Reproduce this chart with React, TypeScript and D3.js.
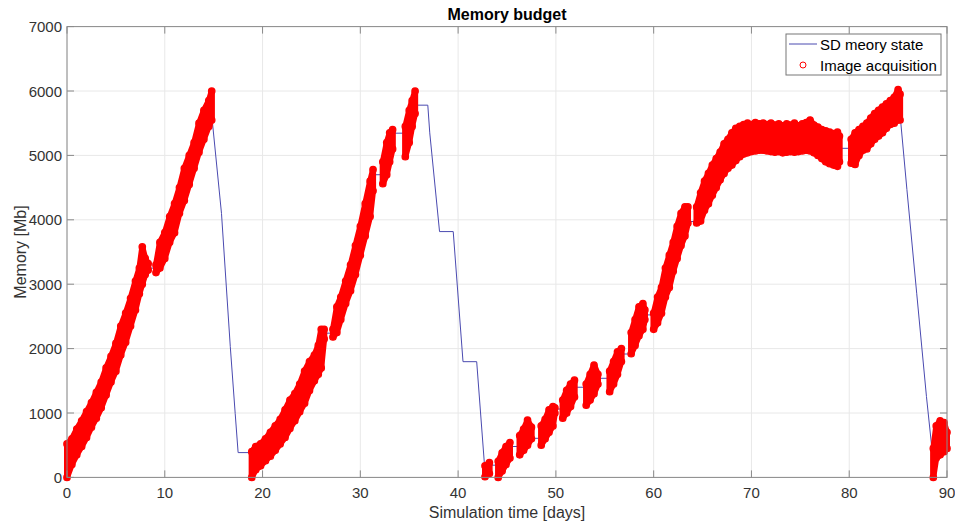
import React from 'react';
import * as d3 from 'd3';

const xTicks = [0, 10, 20, 30, 40, 50, 60, 70, 80, 90];
const yTicks = [0, 1000, 2000, 3000, 4000, 5000, 6000, 7000];
const titleText = 'Memory budget';
const xLabel = 'Simulation time [days]';
const yLabel = 'Memory [Mb]';
const legendLabels = ['SD meory state', 'Image acquisition'];

// Acquisition bursts: [time (days), low memory (Mb), high memory (Mb)]
type Tooth = [number, number, number];
const burst1: Tooth[] = [[0, 0, 520], [0.5, 200, 600], [1.0, 350, 750], [1.5, 480, 880], [2.0, 620, 1020], [2.5, 780, 1160], [3.0, 920, 1320], [3.5, 1080, 1480], [4.0, 1280, 1700], [4.5, 1480, 1880], [5.0, 1650, 2080], [5.5, 1900, 2350], [6.0, 2100, 2550], [6.5, 2350, 2780], [7.0, 2600, 3050], [7.4, 2850, 3250], [7.7, 3000, 3580], [8.0, 3150, 3400], [8.3, 3220, 3320]];
const burst2: Tooth[] = [[9.1, 3180, 3300], [9.5, 3250, 3650], [10.0, 3400, 3800], [10.5, 3650, 4050], [11.0, 3800, 4250], [11.5, 4100, 4500], [12.0, 4300, 4800], [12.5, 4550, 5000], [13.0, 4800, 5200], [13.5, 5050, 5500], [14.0, 5250, 5700], [14.5, 5450, 5850], [14.8, 5550, 6000]];
const burst3: Tooth[] = [[18.9, 0, 400], [19.3, 120, 480], [19.8, 180, 520], [20.3, 260, 600], [20.8, 330, 700], [21.3, 420, 800], [21.8, 520, 900], [22.3, 620, 1050], [22.8, 760, 1200], [23.3, 880, 1300], [23.8, 1020, 1450], [24.3, 1150, 1650], [24.8, 1350, 1800], [25.3, 1500, 1900], [25.7, 1600, 2050], [26.0, 1700, 2300], [26.3, 2150, 2300]];
const burst4: Tooth[] = [[27.2, 2180, 2300], [27.6, 2250, 2650], [28.0, 2450, 2800], [28.5, 2700, 3050], [29.0, 2900, 3300], [29.5, 3150, 3600], [30.0, 3450, 3900], [30.5, 3750, 4250], [31.0, 4050, 4600], [31.3, 4450, 4780]];
const burst5: Tooth[] = [[32.3, 4560, 4900], [32.7, 4700, 5200], [33.0, 4900, 5350], [33.3, 5100, 5400]];
const burst6: Tooth[] = [[34.6, 4980, 5450], [35.0, 5200, 5700], [35.3, 5450, 5850], [35.6, 5650, 6000]];
const burstA: Tooth[] = [[42.75, 10, 180], [43.2, 60, 230]];
const burstB: Tooth[] = [[44.1, 0, 250], [44.5, 100, 380], [44.9, 200, 480], [45.3, 300, 540]];
const burstC: Tooth[] = [[46.3, 350, 650], [46.7, 420, 750], [47.1, 500, 890], [47.5, 600, 780]];
const burstD: Tooth[] = [[48.5, 500, 800], [48.9, 600, 900], [49.3, 700, 1050], [49.7, 800, 1100], [49.9, 1000, 1080]];
const burstE: Tooth[] = [[50.7, 920, 1200], [51.1, 1000, 1350], [51.5, 1100, 1450], [51.9, 1250, 1510]];
const burstF: Tooth[] = [[53.1, 1120, 1450], [53.5, 1200, 1600], [53.9, 1300, 1745], [54.3, 1450, 1600]];
const burstG: Tooth[] = [[55.5, 1330, 1650], [55.9, 1450, 1800], [56.3, 1600, 1950], [56.7, 1800, 2000]];
const burstH: Tooth[] = [[57.7, 1920, 2250], [58.1, 2050, 2450], [58.5, 2200, 2650], [58.9, 2300, 2700], [59.1, 2450, 2600]];
const burstI: Tooth[] = [[60.0, 2300, 2550], [60.4, 2400, 2800], [60.8, 2550, 2950], [61.2, 2800, 3250], [61.6, 2950, 3450], [62.0, 3200, 3650], [62.4, 3400, 3900], [62.8, 3600, 4100], [63.2, 3750, 4200], [63.5, 3950, 4200]];
const burstJ: Tooth[] = [[64.4, 3950, 4200], [64.8, 3980, 4420], [65.2, 4150, 4600], [65.6, 4250, 4720], [66.0, 4380, 4850], [66.4, 4500, 4950], [66.8, 4620, 5050], [67.2, 4720, 5180], [67.6, 4800, 5250], [68.0, 4850, 5350], [68.4, 4920, 5420], [68.8, 4980, 5450], [69.2, 5020, 5480], [69.6, 5040, 5500], [70.0, 5060, 5480], [70.4, 5070, 5510], [70.8, 5080, 5490], [71.2, 5080, 5500], [71.6, 5070, 5480], [72.0, 5060, 5500], [72.4, 5050, 5470], [72.8, 5060, 5490], [73.2, 5040, 5460], [73.6, 5050, 5490], [74.0, 5060, 5470], [74.4, 5050, 5500], [74.8, 5060, 5460], [75.2, 5070, 5490], [75.6, 5080, 5510], [76.0, 5070, 5550], [76.4, 5040, 5470], [76.8, 5000, 5440], [77.2, 4950, 5400], [77.6, 4900, 5380], [78.0, 4870, 5360], [78.4, 4850, 5340], [78.8, 4830, 5360], [79.0, 4900, 5300]];
const burstK: Tooth[] = [[80.2, 4880, 5250], [80.6, 4860, 5350], [81.0, 5000, 5400], [81.4, 5080, 5450], [81.8, 5100, 5500], [82.2, 5180, 5580], [82.6, 5250, 5650], [83.0, 5300, 5700], [83.4, 5350, 5750], [83.8, 5420, 5800], [84.2, 5480, 5850], [84.6, 5500, 5900], [85.0, 5550, 6020], [85.2, 5550, 5950]];
const burstL: Tooth[] = [[88.6, 0, 450], [88.9, 300, 800], [89.3, 350, 880], [89.7, 400, 850], [90.0, 450, 700]];

// Memory state between acquisition bursts: [time, memory]
type Pt = [number, number];
const gap1: Pt[] = [[8.35, 3250], [9.1, 3250]];
const gap2: Pt[] = [[14.85, 5550], [15.8, 4100], [16.7, 2030], [17.2, 995], [17.5, 385], [18.85, 385]];
const gap3: Pt[] = [[26.35, 2240], [27.2, 2240]];
const gap4: Pt[] = [[31.35, 4700], [32.3, 4700]];
const gap5: Pt[] = [[33.35, 5345], [34.6, 5345]];
const gap6: Pt[] = [[35.65, 5780], [36.9, 5780], [37.1, 5350], [38.1, 3817], [39.5, 3817], [40.5, 1797], [41.9, 1797], [42.7, 190]];
const gapA: Pt[] = [[43.25, 190], [44.1, 190]];
const gapB: Pt[] = [[45.35, 480], [46.3, 480]];
const gapC: Pt[] = [[47.55, 607], [48.5, 607]];
const gapD: Pt[] = [[49.95, 1062], [50.7, 1062]];
const gapE: Pt[] = [[51.95, 1400], [53.1, 1400]];
const gapF: Pt[] = [[54.35, 1539], [55.5, 1539]];
const gapG: Pt[] = [[56.75, 1916], [57.7, 1916]];
const gapH: Pt[] = [[59.15, 2523], [60.0, 2523]];
const gapI: Pt[] = [[63.55, 3973], [64.4, 3973]];
const gapJ: Pt[] = [[79.05, 5110], [80.2, 5110]];
const gapK: Pt[] = [[85.25, 5550], [85.9, 4470], [86.9, 2860], [87.9, 1255], [88.4, 530], [88.55, 420]];

const bursts = [burst1, burst2, burst3, burst4, burst5, burst6, burstA, burstB, burstC, burstD, burstE, burstF, burstG, burstH, burstI, burstJ, burstK, burstL];
const gaps = [gap1, gap2, gap3, gap4, gap5, gap6, gapA, gapB, gapC, gapD, gapE, gapF, gapG, gapH, gapI, gapJ, gapK];

const FONT = '"Liberation Sans", Arial, Helvetica, sans-serif';

export default function App() {
  const left = 67, right = 947, top = 26.6, bottom = 477.4;
  const x = d3.scaleLinear().domain([0, 90]).range([left, right]);
  const y = d3.scaleLinear().domain([0, 7000]).range([bottom, top]);

  const zig = (b: Tooth[]): Pt[] => {
    const pts: Pt[] = [];
    b.forEach(([t, lo, hi]) => { pts.push([t, lo]); pts.push([t, hi]); });
    return pts;
  };
  const state: Pt[] = [];
  bursts.forEach((b, i) => {
    state.push(...zig(b));
    if (gaps[i]) state.push(...gaps[i]);
  });
  const line = d3.line<Pt>().x(d => x(d[0])).y(d => y(d[1]));
  const band = d3.area<Tooth>().x(d => x(d[0])).y0(d => y(d[1])).y1(d => y(d[2]));
  const axisColor = '#8a8a8a';
  const gridColor = '#e8e8e8';
  const textColor = '#333333';
  const tickLen = 7;

  return (
    <svg width={955} height={524} style={{ position: 'fixed', left: 0, top: 0, background: '#fff' }} fontFamily={FONT}>
      <rect x={0} y={0} width={955} height={524} fill="#ffffff" />
      {xTicks.map(t => (
        <line key={'gx' + t} x1={x(t)} x2={x(t)} y1={top} y2={bottom} stroke={gridColor} strokeWidth={1} />
      ))}
      {yTicks.map(t => (
        <line key={'gy' + t} x1={left} x2={right} y1={y(t)} y2={y(t)} stroke={gridColor} strokeWidth={1} />
      ))}
      <path d={line(state) || ''} fill="none" stroke="#4a4ab0" strokeWidth={1} />
      {bursts.map((b, i) => {
        const pts = zig(b);
        return (
          <g key={'b' + i}>
            <path d={band(b) || ''} fill="#ff0000" stroke="#ff0000" strokeWidth={6} strokeLinejoin="round" />
            <path d={line(pts) || ''} fill="none" stroke="#ff0000" strokeWidth={6} strokeLinejoin="round" strokeLinecap="round" />
            {pts.map((p, j) => (
              <circle key={j} cx={x(p[0])} cy={y(p[1])} r={3.2} fill="none" stroke="#ff0000" strokeWidth={1.3} />
            ))}
          </g>
        );
      })}
      <rect x={left} y={top} width={right - left} height={bottom - top} fill="none" stroke={axisColor} strokeWidth={1} />
      {xTicks.map(t => (
        <g key={'tx' + t}>
          <line x1={x(t)} x2={x(t)} y1={bottom} y2={bottom - tickLen} stroke={axisColor} />
          <line x1={x(t)} x2={x(t)} y1={top} y2={top + tickLen} stroke={axisColor} />
          <text x={x(t)} y={498} textAnchor="middle" fontSize={15} fill={textColor}>{t}</text>
        </g>
      ))}
      {yTicks.map(t => (
        <g key={'ty' + t}>
          <line x1={left} x2={left + tickLen} y1={y(t)} y2={y(t)} stroke={axisColor} />
          <line x1={right} x2={right - tickLen} y1={y(t)} y2={y(t)} stroke={axisColor} />
          <text x={62} y={y(t) + 5.5} textAnchor="end" fontSize={15} fill={textColor}>{t}</text>
        </g>
      ))}
      <text x={(left + right) / 2} y={20} textAnchor="middle" fontSize={16} fontWeight="bold" fill="#000">{titleText}</text>
      <text x={(left + right) / 2} y={518} textAnchor="middle" fontSize={16} fill={textColor}>{xLabel}</text>
      <text transform={`translate(26,${(top + bottom) / 2}) rotate(-90)`} textAnchor="middle" fontSize={16} fill={textColor}>{yLabel}</text>
      <g>
        <rect x={786} y={34} width={155} height={41} fill="#ffffff" stroke="#777" strokeWidth={1} />
        <line x1={789} x2={817} y1={44} y2={44} stroke="#4a4ab0" strokeWidth={1} />
        <text x={820} y={49.5} fontSize={15} fill="#000">{legendLabels[0]}</text>
        <circle cx={803} cy={65} r={3} fill="none" stroke="#ff0000" strokeWidth={1} />
        <text x={820} y={70.5} fontSize={15} fill="#000">{legendLabels[1]}</text>
      </g>
    </svg>
  );
}
